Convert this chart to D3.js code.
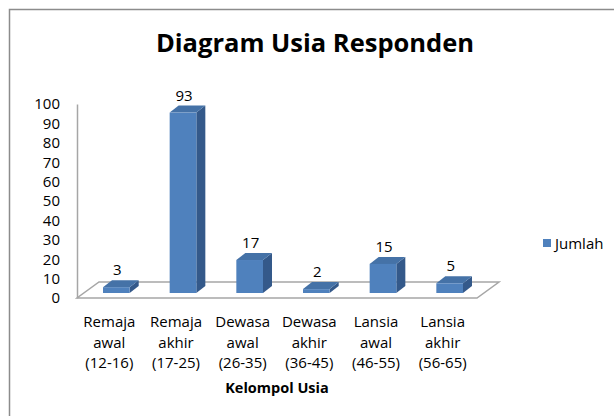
<!DOCTYPE html>
<html>
<head>
<meta charset="utf-8">
<script src="https://cdn.jsdelivr.net/npm/d3@7"></script>
<style>
  body { margin: 0; background: #fff; }
  text { font-family: "Open Sans", sans-serif; fill: #000; }
</style>
</head>
<body>
<div id="container"></div>
<script>
// Données
const categories = [
  ["Remaja", "awal", "(12-16)"],
  ["Remaja", "akhir", "(17-25)"],
  ["Dewasa", "awal", "(26-35)"],
  ["Dewasa", "akhir", "(36-45)"],
  ["Lansia", "awal", "(46-55)"],
  ["Lansia", "akhir", "(56-65)"]
];
const jumlah = [3, 93, 17, 2, 15, 5];
const yTicks = [0, 10, 20, 30, 40, 50, 60, 70, 80, 90, 100];
const seriesName = "Jumlah";

const width = 614, height = 416;

const svg = d3.select("#container").append("svg")
  .attr("width", width)
  .attr("height", height);

// Cadre
svg.append("path")
  .attr("d", `M9.5,${height} V9.5 H${width}`)
  .attr("fill", "none")
  .attr("stroke", "#8c8c8c")
  .attr("stroke-width", 1.5);

// Titre
svg.append("text")
  .attr("x", 315).attr("y", 52)
  .attr("text-anchor", "middle")
  .style("font-size", "25.5px")
  .style("font-weight", "bold")
  .text("Diagram Usia Responden");

// Échelles
const idx = d3.range(categories.length);
const x = d3.scaleBand().domain(idx).range([77, 477]);
const y = d3.scaleLinear().domain([0, 100]).range([298, 104]);

// décalages 3D
const floorDx = 22, floorDy = -16;
const barOffX = 6, barOffY = -5;
const depthX = 9, depthY = -7;
const barW = x.bandwidth() * 0.4;

// Sol
svg.append("path")
  .attr("d", `M${x.range()[0]},${y(0)} L${x.range()[1]},${y(0)} L${x.range()[1] + floorDx},${y(0) + floorDy} L${x.range()[0] + floorDx},${y(0) + floorDy} Z`)
  .attr("fill", "#fff")
  .attr("stroke", "#a6a6a6")
  .attr("stroke-width", 1.5);

// Axe Y
const yAxis = svg.append("g")
  .attr("transform", `translate(${x.range()[0]},0)`)
  .call(d3.axisLeft(y).tickValues(yTicks).tickSize(0).tickPadding(17));
yAxis.select(".domain").attr("stroke", "#a6a6a6").attr("stroke-width", 1.5);
yAxis.selectAll("text").style("font-size", "15px").style("font-family", "'Open Sans', sans-serif");

// Barres 3D
const bars = svg.selectAll(".bar").data(jumlah).enter().append("g").attr("class", "bar");
const fx = (d, i) => x(i) + x.bandwidth() / 2 + barOffX - barW / 2;
bars.append("path") // face latérale
  .attr("d", (d, i) => {
    const x1 = fx(d, i) + barW, yt = y(d) + barOffY, yb = y(0) + barOffY;
    return `M${x1},${yb} L${x1 + depthX},${yb + depthY} L${x1 + depthX},${yt + depthY} L${x1},${yt} Z`;
  })
  .attr("fill", "#34598a");
bars.append("path") // dessus
  .attr("d", (d, i) => {
    const x0 = fx(d, i), yt = y(d) + barOffY;
    return `M${x0},${yt} L${x0 + barW},${yt} L${x0 + barW + depthX},${yt + depthY} L${x0 + depthX},${yt + depthY} Z`;
  })
  .attr("fill", "#4572a7");
bars.append("rect") // face avant
  .attr("x", fx)
  .attr("y", d => y(d) + barOffY)
  .attr("width", barW)
  .attr("height", d => y(0) - y(d))
  .attr("fill", "#4f81bd");

// Étiquettes des valeurs
bars.append("text")
  .attr("x", (d, i) => x(i) + x.bandwidth() / 2 + barOffX + 1)
  .attr("y", d => y(d) + barOffY + depthY - 5)
  .attr("text-anchor", "middle")
  .style("font-size", "15px")
  .text(d => d);

// Étiquettes des catégories
const catLabels = svg.selectAll(".cat").data(categories).enter().append("text")
  .attr("class", "cat")
  .attr("text-anchor", "middle")
  .style("font-size", "15px");
catLabels.selectAll("tspan").data((d, i) => d.map(t => ({ t, i }))).enter().append("tspan")
  .attr("x", d => x(d.i) + x.bandwidth() / 2 - 1)
  .attr("y", (d, j) => 327 + j * 20.5)
  .text(d => d.t);

// Titre de l'axe X
svg.append("text")
  .attr("x", 277).attr("y", 393)
  .attr("text-anchor", "middle")
  .style("font-size", "14.5px")
  .style("font-weight", "bold")
  .text("Kelompol Usia");

// Légende
svg.append("rect")
  .attr("x", 543).attr("y", 239)
  .attr("width", 8).attr("height", 8)
  .attr("fill", "#4f81bd");
svg.append("text")
  .attr("x", 555).attr("y", 248.5)
  .style("font-size", "15px")
  .text(seriesName);
</script>
</body>
</html>
